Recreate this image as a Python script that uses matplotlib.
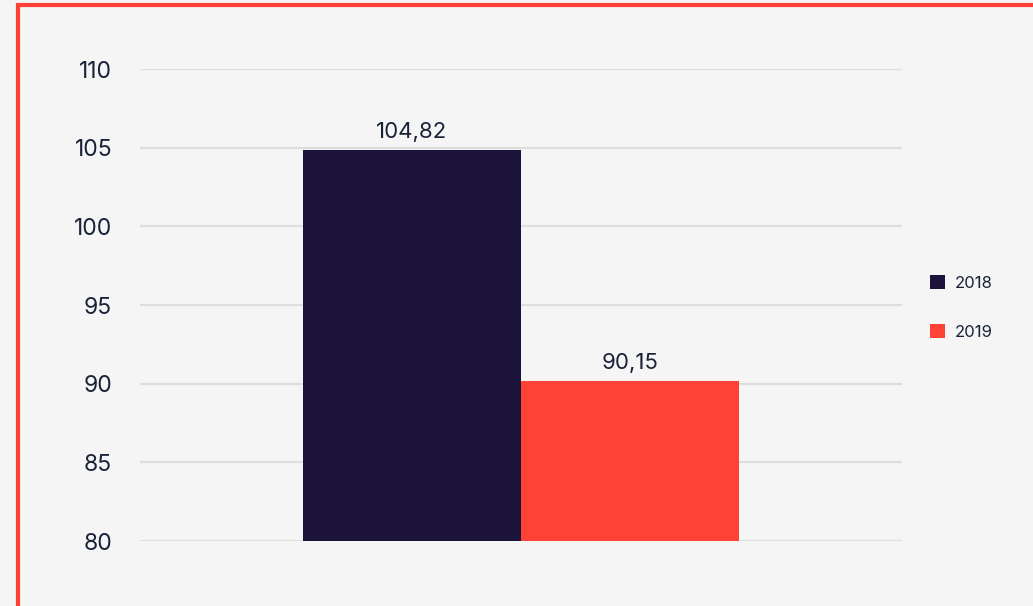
import matplotlib
matplotlib.use("Agg")
import matplotlib.pyplot as plt
from matplotlib.patches import Rectangle

# Datos
years = ["2018", "2019"]
values = [104.82, 90.15]
colors = ["#1b1339", "#ff4136"]
y_ticks = [80, 85, 90, 95, 100, 105, 110]

text_color = "#1a2238"
bg = "#f5f5f5"

plt.rcParams['font.family'] = ['Inter', 'DejaVu Sans']

fig = plt.figure(figsize=(10.33, 6.06), dpi=100, facecolor=bg)
ax = fig.add_axes([140 / 1033, 65 / 606, 762 / 1033, 472 / 606])
ax.set_facecolor(bg)

w = 0.572
offsets = [-w / 2, w / 2]
for year, val, col, off in zip(years, values, colors, offsets):
    ax.bar(off, val - y_ticks[0], bottom=y_ticks[0], width=w, color=col,
           label=year, zorder=3)
    ax.annotate(f"{val:.2f}".replace(".", ","), xy=(off, val),
                xytext=(0, 6), textcoords="offset points",
                ha="center", va="bottom", fontsize=16, color=text_color)

ax.set_xlim(-1, 1)
ax.set_ylim(y_ticks[0], y_ticks[-1])
ax.set_yticks(y_ticks)
ax.set_xticks([])
ax.tick_params(axis="y", length=0, pad=20, labelsize=16.5, labelcolor=text_color)
ax.grid(axis="y", color="#dedede", linewidth=1.6, zorder=0)
for s in ax.spines.values():
    s.set_visible(False)

leg = fig.legend(loc="center left", bbox_to_anchor=(915 / 1033, 0.493),
                 frameon=False, fontsize=12, labelcolor=text_color,
                 handlelength=0.9, handleheight=0.9, handletextpad=0.6,
                 labelspacing=2.0)

# Borde rojo
fig.patches.append(Rectangle((18 / 1033, -0.1), 1.2, (601 / 606) + 0.1,
                             transform=fig.transFigure, fill=False,
                             edgecolor="#ff4136", linewidth=3, zorder=10))

fig.savefig("out.png", dpi=100, facecolor=bg)
